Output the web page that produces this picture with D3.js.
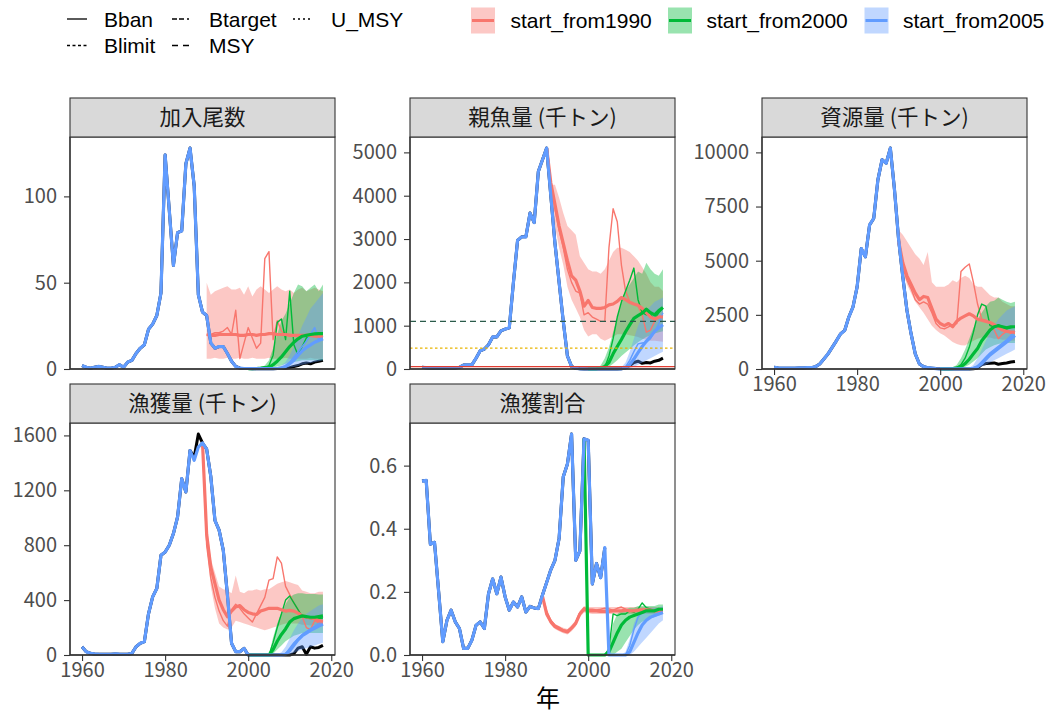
<!DOCTYPE html>
<html>
<head>
<meta charset="utf-8" />
<title>将来予測</title>
<script src="https://cdn.jsdelivr.net/npm/d3@7"></script>
<style>
  body { margin: 0; background: #fff; }
  svg { display: block; }
  .tick text { font-family: 'Noto Sans CJK JP', sans-serif; font-size: 20px; fill: #4d4d4d; }
  .tick line { stroke: #333; stroke-width: 1.1px; }
  .strip { font-family: 'Noto Sans CJK JP', sans-serif; font-size: 21.5px; fill: #1a1a1a; }
  .legend text { font-family: 'Liberation Sans', Arial, sans-serif; font-size: 21px; fill: #000; }
</style>
</head>
<body>
<svg id="chart"></svg>
<script>
// x: 1960 .. 2018
const xTicks = [1960, 1980, 2000, 2020];
const scenLabels = ['start_from1990', 'start_from2000', 'start_from2005'];
const refLabels = ['Bban', 'Btarget', 'U_MSY', 'Blimit', 'MSY'];

// ---- 加入尾数 ----
const recHist = [2, 1, 0.5, 1, 1.5, 1, 0.5, 0.5, 1, 2.5,
  1, 4, 5, 9, 12, 14, 23, 26, 31, 44,
  124, 92, 60, 79, 80, 119, 128, 106, 43, 33,
  31, 15, 12, 13, 13, 9, 4.5, 1.5, 0.5, 0.3,
  0.3, 0.2, 0.2, 0.2, 0.2];
const recObs = [2, 1, 0.5, 1, 1.5, 1, 0.5, 0.5, 1, 2.5,
  1, 4, 5, 9, 12, 14, 23, 26, 31, 44,
  124, 92, 60, 79, 80, 119, 128, 106, 43, 33,
  31, 15, 12, 13, 13, 9, 4.5, 1.5, 0.5, 0.3,
  0.3, 0.2, 0.2, 0.2, 0.2, 0.2, 0.2, 0.3, 0.4, 0.5,
  0.8, 1.5, 2, 3, 3.5, 3, 4, 4.5, 5];
const recMed1990 = [20, 19.5, 19.5, 20, 20, 20, 20, 20, 19.5, 19.5, 20, 20, 19.5, 20, 20, 20.5, 20.5, 20, 20, 20, 19.5, 19.5, 19.5, 19.5, 19.5, 19.5, 19, 19, 19];
const recOne1990 = [20, 20, 21, 21, 22, 24, 20, 34, 6, 15, 24, 18, 12, 15, 64, 68, 17, 28, 22, 20, 20, 19, 19, 19, 20, 20, 19, 18, 18];
const recLo1990 = [6, 6, 6.5, 6, 6, 6.5, 6, 6, 6.5, 6, 6, 6.5, 6, 6, 6, 6.5, 6, 6, 6, 6.5, 6, 6, 6, 6, 6, 6.5, 6, 6, 6];
const recHi1990 = [50, 43, 45, 46, 47, 48, 46, 46, 47, 43, 48, 42, 46, 48, 46, 44, 46, 48, 46, 45, 46, 44, 46, 47, 45, 46, 47, 46, 45];
const recMed2000 = [0.2, 0.2, 0.3, 0.5, 0.8, 1, 2.5, 4.5, 7, 10, 13, 15.5, 17.5, 19, 19.5, 20, 20.3, 20.5, 20.5];
const recOne2000 = [0.2, 0.2, 0.3, 0.5, 1, 2, 8, 27, 29, 17, 45, 14, 8, 13, 18, 20, 20, 20, 20.5];
const recLo2000 = [0.2, 0.2, 0.2, 0.3, 0.4, 0.5, 0.8, 1.5, 2, 3, 3.5, 4, 4.5, 5, 5, 5, 5, 5, 5];
const recHi2000 = [0.2, 0.3, 0.5, 1, 2, 5, 12, 20, 28, 32, 38, 44, 49, 48, 45, 47, 49, 45, 49];
const recMed2005 = [0.2, 0.2, 0.3, 0.6, 1.5, 3, 5, 8, 10.5, 12.5, 14, 15.5, 16.5, 17.5];
const recOne2005 = [0.2, 0.2, 0.3, 0.8, 2, 4, 7, 10, 13, 16, 20, 24, 17, 19];
const recLo2005 = [0.1, 0.1, 0.2, 0.3, 0.5, 0.8, 1.2, 1.8, 2.5, 3, 3.5, 4, 4.5, 5];
const recHi2005 = [0.3, 0.5, 1, 2, 4, 8, 13, 19, 25, 30, 35, 38, 41, 44];

// ---- 親魚量 (千トン) ----
const ssbHist = [40, 30, 25, 20, 20, 20, 20, 20, 25, 40,
  90, 95, 95, 250, 420, 460, 560, 740, 740, 880,
  920, 950, 2000, 2970, 3050, 3050, 3600, 3380, 4560, 4830,
  5100, 4000, 2900, 2000, 1100, 300, 60, 15, 5, 2,
  0, 0, 0, 0, 0];
const ssbObs = [40, 30, 25, 20, 20, 20, 20, 20, 25, 40,
  90, 95, 95, 250, 420, 460, 560, 740, 740, 880,
  920, 950, 2000, 2970, 3050, 3050, 3600, 3380, 4560, 4830,
  5100, 4000, 2900, 2000, 1100, 300, 60, 15, 5, 2,
  0, 0, 0, 0, 0, 0, 0, 0, 5, 30,
  80, 150, 180, 130, 150, 140, 180, 200, 250];
const ssbMed1990 = [5100, 4300, 3800, 3300, 2900, 2500, 2150, 2050, 1800, 1450, 1580, 1420, 1400, 1400, 1420, 1480, 1500, 1560, 1650, 1600, 1540, 1500, 1470, 1400, 1300, 1200, 1150, 1200, 1200];
const ssbOne1990 = [5100, 4200, 3700, 3200, 2800, 2300, 2000, 1800, 1750, 1250, 1300, 1200, 1150, 1100, 1100, 2800, 3700, 3400, 2400, 1800, 1550, 1500, 1450, 1250, 850, 900, 1100, 1200, 1250];
const ssbLo1990 = [5100, 3900, 3300, 2800, 2400, 1900, 1600, 1400, 1200, 900, 750, 800, 800, 700, 650, 700, 750, 800, 800, 800, 780, 760, 740, 700, 680, 650, 650, 640, 630];
const ssbHi1990 = [5100, 4250, 4250, 3950, 3600, 3300, 3200, 3100, 2600, 2450, 2300, 2250, 2250, 2200, 2300, 2500, 2700, 2800, 2800, 2750, 2700, 2600, 2500, 2350, 2200, 2000, 1900, 1900, 1800];
const ssbMed2000 = [0, 0, 5, 20, 60, 150, 350, 520, 680, 860, 1020, 1170, 1230, 1290, 1380, 1300, 1250, 1350, 1420];
const ssbOne2000 = [0, 0, 0, 10, 40, 300, 700, 1200, 1550, 1800, 2050, 2330, 1600, 1300, 1250, 1250, 1150, 1300, 1400];
const ssbLo2000 = [0, 0, 0, 5, 15, 50, 120, 200, 300, 380, 460, 540, 620, 680, 740, 780, 820, 850, 870];
const ssbHi2000 = [0, 5, 20, 80, 250, 500, 850, 1200, 1550, 1800, 1950, 2100, 2250, 2200, 2450, 2300, 2200, 2150, 2300];
const ssbMed2005 = [0, 0, 0, 5, 20, 100, 230, 380, 520, 640, 750, 870, 950, 1020];
const ssbOne2005 = [0, 0, 0, 5, 50, 200, 400, 580, 600, 620, 700, 850, 1050, 1300];
const ssbLo2005 = [0, 0, 0, 0, 5, 20, 50, 100, 150, 200, 250, 300, 350, 400];
const ssbHi2005 = [0, 0, 10, 40, 150, 400, 700, 1000, 1200, 1350, 1450, 1550, 1600, 1650];
const ssbRefs = [55, 480, 1100]; // Bban, Blimit, Btarget

// ---- 資源量 (千トン) ----
const bioHist = [80, 50, 40, 40, 40, 40, 50, 50, 60, 60,
  110, 230, 460, 700, 1000, 1300, 1620, 1780, 2400, 2860,
  3790, 5560, 5180, 6650, 6950, 8730, 9660, 9500, 10200, 8270,
  5950, 4250, 2700, 1620, 700, 230, 110, 60, 40, 20,
  10, 5, 5, 5, 5];
const bioObs = [80, 50, 40, 40, 40, 40, 50, 50, 60, 60,
  110, 230, 460, 700, 1000, 1300, 1620, 1780, 2400, 2860,
  3790, 5560, 5180, 6650, 6950, 8730, 9660, 9500, 10200, 8270,
  5950, 4250, 2700, 1620, 700, 230, 110, 60, 40, 20,
  10, 5, 5, 5, 5, 5, 5, 5, 10, 50,
  200, 250, 270, 280, 220, 250, 280, 320, 350];
const bioMed1990 = [5900, 4900, 4300, 3900, 3500, 3200, 3350, 3300, 2800, 2300, 2100, 2000, 2100, 1950, 2200, 2350, 2450, 2550, 2450, 2300, 2250, 2200, 2150, 2050, 1900, 1800, 1750, 1700, 1700];
const bioOne1990 = [5900, 4700, 4100, 3700, 3200, 3000, 3100, 3000, 2600, 2100, 1900, 1850, 1950, 2050, 2100, 4500, 4700, 4850, 4000, 3000, 2300, 2250, 2100, 1800, 1400, 1600, 1750, 1650, 1650];
const bioLo1990 = [5500, 4500, 3900, 3500, 3100, 2850, 2600, 2300, 2000, 1800, 1650, 1550, 1400, 1250, 1150, 1100, 1080, 1200, 1300, 1400, 1450, 1450, 1450, 1400, 1400, 1350, 1350, 1300, 1300];
const bioHi1990 = [6400, 6200, 5900, 5600, 5300, 5100, 4800, 5400, 4000, 3800, 3800, 3800, 3900, 4100, 4000, 4200, 4300, 4200, 3900, 3800, 3800, 3600, 3400, 3300, 3300, 3100, 3000, 2900, 2900];
const bioMed2000 = [10, 5, 10, 20, 50, 100, 250, 450, 700, 950, 1300, 1550, 1800, 1950, 2000, 1950, 1900, 1950, 1950];
const bioOne2000 = [10, 5, 10, 20, 70, 200, 500, 1000, 1700, 2500, 3000, 2900, 2000, 1950, 2050, 1950, 1850, 1900, 1950];
const bioLo2000 = [10, 5, 5, 10, 20, 40, 100, 200, 350, 500, 700, 900, 1000, 1100, 1150, 1200, 1200, 1200, 1200];
const bioHi2000 = [10, 10, 20, 60, 200, 500, 900, 1400, 1900, 2300, 2600, 2900, 3100, 3150, 3300, 3200, 3100, 3050, 3100];
const bioMed2005 = [5, 5, 10, 30, 100, 250, 450, 650, 800, 950, 1100, 1250, 1400, 1550];
const bioOne2005 = [5, 5, 10, 40, 150, 350, 550, 750, 900, 1050, 1200, 1350, 1550, 1750];
const bioLo2005 = [5, 5, 5, 10, 40, 100, 200, 300, 400, 500, 600, 700, 800, 900];
const bioHi2005 = [5, 10, 50, 200, 500, 900, 1300, 1700, 2000, 2300, 2500, 2700, 2800, 2900];

// ---- 漁獲量 (千トン) ----
const catchHist = [60, 24, 12, 8, 6, 5, 5, 5, 8, 6,
  5, 5, 12, 60, 85, 97, 300, 424, 485, 727,
  750, 800, 885, 1006, 1285, 1188, 1490, 1418, 1515, 1545,
  1500, 1300, 980, 910, 764, 436, 85, 24, 24, 48,
  0, 0, 0, 0, 0];
const catchObs = [60, 24, 12, 8, 6, 5, 5, 5, 8, 6,
  5, 5, 12, 60, 85, 97, 300, 424, 485, 727,
  750, 800, 885, 1006, 1285, 1188, 1490, 1440, 1610, 1545,
  1500, 1300, 980, 910, 764, 436, 85, 24, 24, 48,
  0, 0, 0, 0, 0, 0, 0, 0, 0, 0,
  0, 10, 50, 60, 5, 60, 50, 55, 70];
const catchMed1989 = [1545, 880, 640, 520, 400, 330, 280, 320, 350, 360, 330, 310, 300, 295, 320, 330, 340, 340, 340, 330, 320, 325, 320, 305, 285, 275, 270, 265, 250, 245];
const catchOne1989 = [1545, 800, 560, 420, 320, 250, 210, 330, 370, 340, 300, 270, 240, 300, 360, 420, 545, 557, 715, 670, 500, 440, 380, 330, 280, 200, 185, 250, 235, 230];
const catchLo1989 = [1545, 800, 500, 340, 230, 200, 185, 200, 250, 240, 230, 220, 210, 200, 190, 180, 190, 200, 210, 220, 230, 230, 230, 230, 220, 220, 215, 215, 215, 210];
const catchHi1989 = [1545, 960, 700, 600, 500, 480, 470, 450, 580, 460, 450, 470, 470, 480, 470, 480, 480, 500, 520, 530, 540, 530, 520, 510, 470, 460, 450, 450, 460, 460];
const catchMed2000 = [0, 0, 0, 0, 0, 0, 40, 100, 150, 190, 240, 265, 275, 285, 280, 275, 275, 280, 285];
const catchOne2000 = [0, 0, 0, 0, 0, 0, 90, 200, 300, 400, 430, 380, 330, 280, 270, 265, 260, 265, 270];
const catchLo2000 = [0, 0, 0, 0, 0, 0, 10, 40, 70, 100, 120, 140, 150, 160, 160, 160, 160, 160, 160];
const catchHi2000 = [0, 0, 0, 0, 0, 0, 130, 230, 310, 370, 420, 440, 450, 450, 445, 445, 445, 440, 440];
const catchMed2005 = [0, 0, 0, 0, 5, 30, 70, 110, 140, 160, 180, 195, 210, 225];
const catchOne2005 = [0, 0, 0, 0, 10, 50, 90, 120, 150, 170, 190, 210, 230, 250];
const catchLo2005 = [0, 0, 0, 0, 0, 5, 15, 30, 40, 50, 60, 70, 80, 90];
const catchHi2005 = [0, 0, 5, 20, 60, 120, 180, 230, 270, 300, 320, 340, 360, 370];

// ---- 漁獲割合 ----
const rateHist = [0.551, 0.553, 0.351, 0.357, 0.2, 0.042, 0.11, 0.142, 0.105, 0.084,
  0.021, 0.021, 0.047, 0.094, 0.105, 0.084, 0.194, 0.241, 0.194, 0.247,
  0.184, 0.142, 0.168, 0.152, 0.184, 0.136, 0.154, 0.149, 0.147, 0.19,
  0.23, 0.27, 0.3, 0.37, 0.565, 0.605, 0.7, 0.3, 0.33, 0.685,
  0.68, 0.225, 0.29, 0.245, 0.34];
const rateObs = [0.551, 0.553, 0.351, 0.357, 0.2, 0.042, 0.11, 0.142, 0.105, 0.084,
  0.021, 0.021, 0.047, 0.094, 0.105, 0.084, 0.194, 0.241, 0.194, 0.247,
  0.184, 0.142, 0.168, 0.152, 0.184, 0.136, 0.154, 0.149, 0.147, 0.19,
  0.23, 0.27, 0.3, 0.37, 0.565, 0.605, 0.7, 0.3, 0.33, 0.685,
  0.68, 0.225, 0.29, 0.245, 0.34];
const rateMed1989 = [0.186, 0.13, 0.105, 0.09, 0.083, 0.077, 0.073, 0.085, 0.1, 0.13, 0.145, 0.14, 0.14, 0.14, 0.138, 0.138, 0.138, 0.14, 0.14, 0.14, 0.142, 0.14, 0.14, 0.142, 0.143, 0.143, 0.142, 0.14, 0.14, 0.14];
const rateOne1989 = [0.186, 0.14, 0.11, 0.095, 0.088, 0.08, 0.078, 0.088, 0.105, 0.135, 0.15, 0.145, 0.145, 0.143, 0.145, 0.148, 0.146, 0.142, 0.148, 0.152, 0.145, 0.14, 0.138, 0.14, 0.145, 0.14, 0.138, 0.14, 0.142, 0.14];
const rateLo1989 = [0.186, 0.122, 0.097, 0.082, 0.075, 0.069, 0.065, 0.075, 0.09, 0.12, 0.135, 0.132, 0.13, 0.13, 0.13, 0.13, 0.13, 0.13, 0.13, 0.13, 0.13, 0.13, 0.13, 0.13, 0.13, 0.13, 0.13, 0.13, 0.13, 0.13];
const rateHi1989 = [0.186, 0.138, 0.113, 0.099, 0.092, 0.086, 0.082, 0.095, 0.11, 0.14, 0.155, 0.152, 0.152, 0.152, 0.152, 0.152, 0.152, 0.152, 0.152, 0.152, 0.152, 0.152, 0.152, 0.152, 0.152, 0.152, 0.152, 0.152, 0.152, 0.152];
const rateMed1999 = [0.685, 0, 0, 0, 0, 0, 0.01, 0.04, 0.07, 0.095, 0.11, 0.12, 0.125, 0.13, 0.135, 0.14, 0.14, 0.14, 0.145, 0.145];
const rateOne1999 = [0.685, 0, 0, 0, 0, 0, 0.02, 0.13, 0.125, 0.13, 0.13, 0.14, 0.135, 0.145, 0.165, 0.15, 0.145, 0.14, 0.145, 0.145];
const rateLo1999 = [0.685, 0, 0, 0, 0, 0, 0, 0, 0.01, 0.02, 0.04, 0.06, 0.08, 0.095, 0.105, 0.11, 0.115, 0.12, 0.125, 0.13];
const rateHi1999 = [0.685, 0, 0, 0, 0, 0, 0.02, 0.1, 0.13, 0.14, 0.145, 0.15, 0.15, 0.155, 0.155, 0.155, 0.155, 0.155, 0.16, 0.16];
const rateMed2005 = [0, 0, 0, 0, 0, 0.01, 0.04, 0.07, 0.095, 0.11, 0.12, 0.125, 0.13, 0.135];
const rateOne2005 = [0, 0, 0, 0, 0, 0.03, 0.08, 0.12, 0.135, 0.14, 0.14, 0.14, 0.14, 0.14];
const rateLo2005 = [0, 0, 0, 0, 0, 0, 0.01, 0.025, 0.04, 0.055, 0.07, 0.085, 0.1, 0.11];
const rateHi2005 = [0, 0, 0, 0, 0.01, 0.05, 0.1, 0.13, 0.14, 0.145, 0.15, 0.15, 0.15, 0.155];

const red = '#F8766D', green = '#00BA38', blue = '#619CFF';
const scenColors = [red, green, blue];

function run(start, med, one, lo, hi, color) {
  return { start, med, one, lo, hi, color };
}

const panels = [
  { title: '加入尾数', col: 0, row: 0, hist: recHist, obs: recObs,
    ticks: [0, 50, 100], fmt: d3.format('d'), xlab: false,
    runs: [run(1990, recMed1990, recOne1990, recLo1990, recHi1990, red),
           run(2000, recMed2000, recOne2000, recLo2000, recHi2000, green),
           run(2005, recMed2005, recOne2005, recLo2005, recHi2005, blue)] },
  { title: '親魚量 (千トン)', col: 1, row: 0, hist: ssbHist, obs: ssbObs,
    ticks: [0, 1000, 2000, 3000, 4000, 5000], fmt: d3.format('d'), xlab: false, refs: ssbRefs,
    runs: [run(1990, ssbMed1990, ssbOne1990, ssbLo1990, ssbHi1990, red),
           run(2000, ssbMed2000, ssbOne2000, ssbLo2000, ssbHi2000, green),
           run(2005, ssbMed2005, ssbOne2005, ssbLo2005, ssbHi2005, blue)] },
  { title: '資源量 (千トン)', col: 2, row: 0, hist: bioHist, obs: bioObs,
    ticks: [0, 2500, 5000, 7500, 10000], fmt: d3.format('d'), xlab: true,
    runs: [run(1990, bioMed1990, bioOne1990, bioLo1990, bioHi1990, red),
           run(2000, bioMed2000, bioOne2000, bioLo2000, bioHi2000, green),
           run(2005, bioMed2005, bioOne2005, bioLo2005, bioHi2005, blue)] },
  { title: '漁獲量 (千トン)', col: 0, row: 1, hist: catchHist, obs: catchObs,
    ticks: [0, 400, 800, 1200, 1600], fmt: d3.format('d'), xlab: true,
    runs: [run(1989, catchMed1989, catchOne1989, catchLo1989, catchHi1989, red),
           run(2000, catchMed2000, catchOne2000, catchLo2000, catchHi2000, green),
           run(2005, catchMed2005, catchOne2005, catchLo2005, catchHi2005, blue)] },
  { title: '漁獲割合', col: 1, row: 1, hist: rateHist, obs: rateObs,
    ticks: [0, 0.2, 0.4, 0.6], fmt: d3.format('.1f'), xlab: true,
    runs: [run(1989, rateMed1989, rateOne1989, rateLo1989, rateHi1989, red),
           run(1999, rateMed1999, rateOne1999, rateLo1999, rateHi1999, green),
           run(2005, rateMed2005, rateOne2005, rateLo2005, rateHi2005, blue)] }
];

const width = 1046, height = 713;
const colLeft = [70, 410, 762];
const rowTop = [98, 384];
const panelW = 265, stripH = 39, plotH = 232;

const svg = d3.select('#chart').attr('width', width).attr('height', height);
svg.append('rect').attr('width', width).attr('height', height).attr('fill', '#fff');

const pts = (start, arr) => arr.map((v, i) => [start + i, v]);

panels.forEach((p) => {
  const left = colLeft[p.col];
  const top = rowTop[p.row] + stripH;
  const bottom = top + plotH;

  const x = d3.scaleLinear().domain([1957.1, 2020.9]).range([left, left + panelW]);
  const all = p.obs.concat(p.hist);
  p.runs.forEach((r) => { all.push(...r.med, ...r.one, ...r.lo, ...r.hi); });
  const y = d3.scaleLinear().domain([0, d3.max(all) * 1.05]).range([bottom, top]);

  const line = d3.line().x((d) => x(d[0])).y((d) => y(d[1]));
  const area = d3.area().x((d) => x(d[0])).y0((d) => y(d[1])).y1((d) => y(d[2]));

  const g = svg.append('g');

  // observed (black) under everything
  g.append('path')
    .attr('d', line(pts(1960, p.obs)))
    .attr('fill', 'none').attr('stroke', '#000')
    .attr('stroke-width', 3).attr('stroke-linejoin', 'round');

  // ribbons
  p.runs.forEach((r) => {
    const band = r.lo.map((v, i) => [r.start + i, v, r.hi[i]]);
    g.append('path').attr('d', area(band))
      .attr('fill', r.color).attr('fill-opacity', 0.4);
  });

  // single runs (thin)
  p.runs.forEach((r) => {
    g.append('path').attr('d', line(pts(r.start, r.one)))
      .attr('fill', 'none').attr('stroke', r.color)
      .attr('stroke-width', 1.4).attr('stroke-linejoin', 'round');
  });

  // medians (thick); the 2005 run carries the history before it
  p.runs.forEach((r, i) => {
    let data = pts(r.start, r.med);
    if (i === 2) data = pts(1960, p.hist).concat(data);
    g.append('path').attr('d', line(data))
      .attr('fill', 'none').attr('stroke', r.color)
      .attr('stroke-width', 3.2).attr('stroke-linejoin', 'round');
  });

  // reference points
  if (p.refs) {
    const refStyle = [
      { color: '#E03C31', dash: null },
      { color: '#E8B400', dash: '2.5,2.5' },
      { color: '#2B5B4B', dash: '6,4' }
    ];
    p.refs.forEach((v, i) => {
      g.append('line')
        .attr('x1', left).attr('x2', left + panelW)
        .attr('y1', y(v)).attr('y2', y(v))
        .attr('stroke', refStyle[i].color).attr('stroke-width', 1.3)
        .attr('stroke-dasharray', refStyle[i].dash);
    });
  }

  // panel border
  g.append('rect')
    .attr('x', left).attr('y', top).attr('width', panelW).attr('height', plotH)
    .attr('fill', 'none').attr('stroke', '#333').attr('stroke-width', 1.1);

  // strip
  g.append('rect')
    .attr('x', left).attr('y', rowTop[p.row]).attr('width', panelW).attr('height', stripH)
    .attr('fill', '#d9d9d9').attr('stroke', '#333').attr('stroke-width', 1.1);
  g.append('text').attr('class', 'strip')
    .attr('x', left + panelW / 2).attr('y', rowTop[p.row] + stripH / 2)
    .attr('dy', '0.36em').attr('text-anchor', 'middle')
    .text(p.title);

  // axes
  const yAxis = g.append('g').attr('transform', `translate(${left},0)`)
    .call(d3.axisLeft(y).tickValues(p.ticks).tickFormat(p.fmt)
      .tickSize(6).tickPadding(7).tickSizeOuter(0));
  yAxis.select('.domain').remove();

  if (p.xlab) {
    const xAxis = g.append('g').attr('transform', `translate(0,${bottom})`)
      .call(d3.axisBottom(x).tickValues(xTicks).tickFormat(d3.format('d'))
        .tickSize(6).tickPadding(2).tickSizeOuter(0));
    xAxis.select('.domain').remove();
  }
  // axis lines
  g.append('line').attr('x1', left).attr('x2', left).attr('y1', top).attr('y2', bottom)
    .attr('stroke', '#333').attr('stroke-width', 1.3);
  g.append('line').attr('x1', left).attr('x2', left + panelW).attr('y1', bottom).attr('y2', bottom)
    .attr('stroke', '#333').attr('stroke-width', 1.3);
});

// x title
svg.append('text')
  .attr('x', 548).attr('y', 707)
  .attr('text-anchor', 'middle')
  .style('font-family', "'Noto Sans CJK JP', sans-serif")
  .style('font-size', '24px').style('fill', '#000')
  .text('年');

// ---- legends ----
const leg = svg.append('g').attr('class', 'legend');
const ltKeys = [
  { x: 67, y: 19, dash: null },
  { x: 172, y: 19, dash: '5,2,5,3,2,20' },
  { x: 293, y: 19, dash: '2,3' },
  { x: 67, y: 45.5, dash: '3,2.5' },
  { x: 172, y: 45.5, dash: '6,5' }
];
ltKeys.forEach((k, i) => {
  const w = i % 3 === 0 || i === 3 ? 20 : 18;
  leg.append('line')
    .attr('x1', k.x).attr('x2', k.x + (i === 2 ? 20 : w))
    .attr('y1', k.y).attr('y2', k.y)
    .attr('stroke', '#000').attr('stroke-width', 1.3)
    .attr('stroke-dasharray', k.dash);
  const tx = i === 2 ? 331 : (k.x === 67 ? 104 : 209);
  leg.append('text').attr('x', tx).attr('y', k.y + 7.5).text(refLabels[i]);
});

const fillKeyX = [471, 668, 864.5];
const fillTextX = [510.5, 706.5, 903];
scenLabels.forEach((s, i) => {
  leg.append('rect')
    .attr('x', fillKeyX[i]).attr('y', 7.5).attr('width', 24).attr('height', 26)
    .attr('fill', scenColors[i]).attr('fill-opacity', 0.4);
  leg.append('line')
    .attr('x1', fillKeyX[i] + 1).attr('x2', fillKeyX[i] + 23)
    .attr('y1', 20.5).attr('y2', 20.5)
    .attr('stroke', scenColors[i]).attr('stroke-width', 3);
  leg.append('text').attr('x', fillTextX[i]).attr('y', 28).text(s);
});
</script>
</body>
</html>
